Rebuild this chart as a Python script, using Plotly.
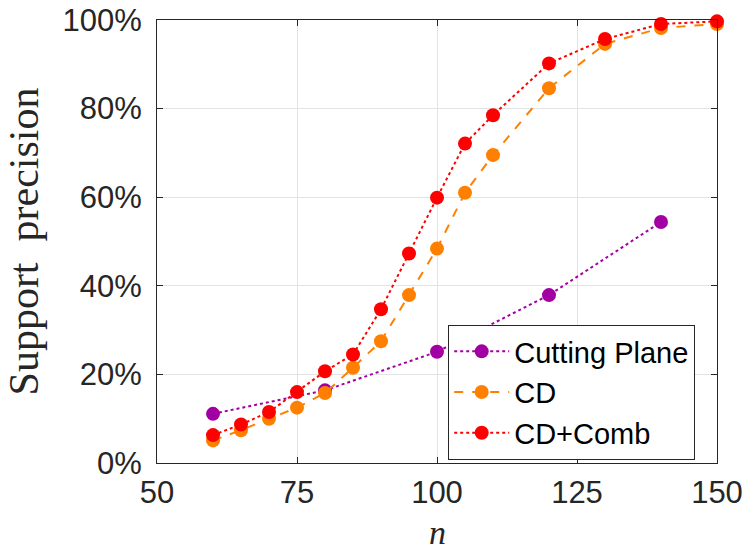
import plotly.graph_objects as go

n_cp = [60, 80, 100, 120, 140]
prec_cp = [11.1, 16.4, 25.1, 37.9, 54.4]

n_cd = [60, 65, 70, 75, 80, 85, 90, 95, 100, 105, 110, 120, 130, 140, 150]
prec_cd = [5.1, 7.4, 10.0, 12.5, 15.8, 21.5, 27.5, 37.9, 48.4, 61.0, 69.5, 84.6, 94.6, 98.2, 99.1]

n_comb = [60, 65, 70, 75, 80, 85, 90, 95, 100, 105, 110, 120, 130, 140, 150]
prec_comb = [6.3, 8.7, 11.5, 16.0, 20.7, 24.5, 34.7, 47.3, 59.9, 72.1, 78.5, 90.2, 95.7, 99.1, 99.7]

x_ticks = [50, 75, 100, 125, 150]
y_ticks = [0, 20, 40, 60, 80, 100]
y_tick_text = ["0%", "20%", "40%", "60%", "80%", "100%"]

series = [
    ("Cutting Plane", n_cp, prec_cp, "#A300A3", "dot"),
    ("CD", n_cd, prec_cd, "#FF8000", "dash"),
    ("CD+Comb", n_comb, prec_comb, "#FF0000", "dot"),
]

fig = go.Figure()
for name, xs, ys, col, dash in series:
    fig.add_trace(go.Scatter(
        x=xs, y=ys, name=name, mode="lines+markers",
        line=dict(color=col, width=2, dash=dash),
        marker=dict(color=col, size=14, line=dict(width=0)),
        cliponaxis=False,
    ))

axis_common = dict(
    showline=True, linecolor="#262626", linewidth=1, mirror="ticks",
    ticks="inside", ticklen=6, tickcolor="#262626", tickwidth=1,
    showgrid=True, gridcolor="#E3E3E3", gridwidth=1, zeroline=False,
    automargin=False,
    tickfont=dict(family="Liberation Sans, Arial, sans-serif", size=31, color="#262626"),
)

fig.update_layout(
    width=746, height=553,
    margin=dict(l=157, r=29, t=20, b=90),
    plot_bgcolor="white", paper_bgcolor="white",
    showlegend=True,
    legend=dict(
        x=0.52, y=0.3115, xanchor="left", yanchor="top",
        bgcolor="white", bordercolor="#262626", borderwidth=1,
        font=dict(family="Liberation Sans, Arial, sans-serif", size=29, color="black"),
        itemwidth=55, tracegroupgap=0,
    ),
    xaxis=dict(
        range=[50, 150], tickvals=x_ticks,
        ticklabelstandoff=2,
        **axis_common,
    ),
    yaxis=dict(
        range=[0, 100], tickvals=y_ticks, ticktext=y_tick_text,
        title=dict(text="Support  precision", font=dict(family="Liberation Serif, serif", size=42, color="#262626"), standoff=10),
        ticklabelstandoff=8,
        **axis_common,
    ),
    annotations=[dict(
        text="<i>n</i>", x=0.5, xref="paper", xanchor="center",
        y=-0.2032, yref="paper", yanchor="bottom", showarrow=False,
        font=dict(family="Liberation Serif, serif", size=34, color="#262626"),
    )],
)

fig.write_html("out.html")
